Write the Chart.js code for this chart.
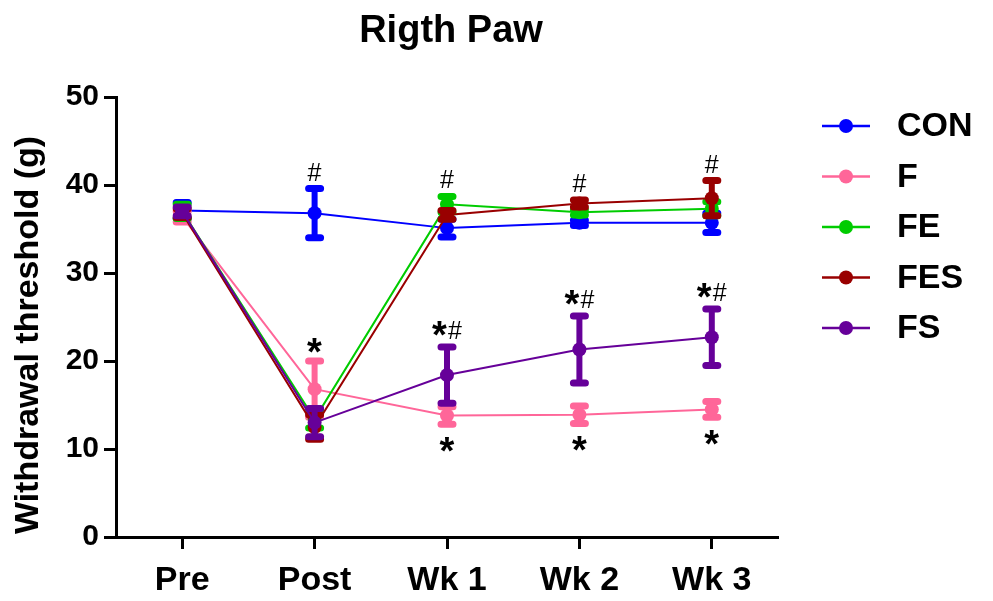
<!DOCTYPE html>
<html>
<head>
<meta charset="utf-8">
<title>Rigth Paw</title>
<script src="https://cdn.jsdelivr.net/npm/chart.js@4/dist/chart.umd.min.js"></script>
<style>
  html, body { margin: 0; padding: 0; background: #ffffff; }
  #wrap { width: 993px; height: 601px; }
</style>
</head>
<body>
<div id="wrap"><canvas id="c" width="993" height="601"></canvas></div>
<script>
// Time points
const timePoints = ['Pre', 'Post', 'Wk 1', 'Wk 2', 'Wk 3'];

// Group names
const groups = ['CON', 'F', 'FE', 'FES', 'FS'];

// Mean withdrawal threshold (g) per group
const conMean = [37.1, 36.8, 35.1, 35.7, 35.7];
const fMean   = [36.4, 16.8, 13.8, 13.9, 14.5];
const feMean  = [37.0, 13.4, 37.8, 36.9, 37.3];
const fesMean = [36.8, 12.5, 36.6, 37.9, 38.5];
const fsMean  = [37.0, 13.0, 18.4, 21.3, 22.7];

// Error (±) per group
const conErr = [0.9, 2.8, 1.0, 0.3, 1.1];
const fErr   = [0.6, 3.2, 1.0, 1.0, 0.9];
const feErr  = [0.8, 1.0, 0.9, 0.3, 0.8];
const fesErr = [0.5, 1.4, 0.5, 0.4, 2.0];
const fsErr  = [0.5, 1.6, 3.2, 3.8, 3.2];

// Y axis range
const yMin = 0, yMax = 50, yStep = 10;

// Significance marks: time point index, group index, side, symbols
const markAt     = [1, 1, 2, 2, 2, 3, 3, 3, 4, 4, 4];
const markGroup  = [0, 1, 2, 4, 1, 3, 4, 1, 3, 4, 1];
const markSide   = ['above', 'above', 'above', 'above', 'below', 'above', 'above', 'below', 'above', 'above', 'below'];
const markText   = ['#', '*', '#', '*#', '*', '#', '*#', '*', '#', '*#', '*'];

const colors = ['#0000ff', '#ff6699', '#00cc00', '#990000', '#660099'];
const FONT = '"Liberation Sans", Arial, Helvetica, sans-serif';

const means = [conMean, fMean, feMean, fesMean, fsMean];
const errs  = [conErr, fErr, feErr, fesErr, fsErr];

// Vertical error bars with rounded caps, drawn just beneath each series
const errorBarPlugin = {
  id: 'errorBars',
  beforeDatasetDraw(chart, args) {
    const ds = chart.data.datasets[args.index];
    const xs = chart.scales.x, ys = chart.scales.y;
    const ctx = chart.ctx;
    ctx.save();
    ctx.strokeStyle = ds.borderColor;
    ds.data.forEach((v, i) => {
      const e = ds.errors[i];
      const px = xs.getPixelForValue(i);
      const top = ys.getPixelForValue(v + e);
      const bot = ys.getPixelForValue(v - e);
      ctx.lineCap = 'butt';
      ctx.lineWidth = 6;
      ctx.beginPath();
      ctx.moveTo(px, top);
      ctx.lineTo(px, bot);
      ctx.stroke();
      ctx.lineCap = 'round';
      ctx.lineWidth = 7;
      ctx.beginPath();
      ctx.moveTo(px - 6, top); ctx.lineTo(px + 6, top);
      ctx.moveTo(px - 6, bot); ctx.lineTo(px + 6, bot);
      ctx.stroke();
    });
    ctx.restore();
  }
};

// Symbol fonts for the significance marks
function symbolFont(ch) {
  return ch === '*' ? 'bold 38px ' + FONT : '25px ' + FONT;
}

// Significance marks, legend and titles
const decorPlugin = {
  id: 'decor',
  afterDraw(chart) {
    const ctx = chart.ctx;
    const xs = chart.scales.x, ys = chart.scales.y;
    ctx.save();
    ctx.fillStyle = '#000';

    // significance marks
    markAt.forEach((at, k) => {
      const g = markGroup[k];
      const v = means[g][at], e = errs[g][at];
      const px = xs.getPixelForValue(at);
      const chars = markText[k].split('');
      const ms = chars.map(ch => { ctx.font = symbolFont(ch); return ctx.measureText(ch); });
      const heights = ms.map(m => m.actualBoundingBoxAscent + m.actualBoundingBoxDescent);
      const maxH = Math.max(...heights);
      let inkTop;
      if (markSide[k] === 'above') {
        inkTop = ys.getPixelForValue(v + e) - 8 - maxH;
      } else {
        inkTop = ys.getPixelForValue(v - e) + 13;
      }
      const widths = ms.map(m => m.actualBoundingBoxLeft + m.actualBoundingBoxRight);
      const gap = 1;
      const total = widths.reduce((a, b) => a + b, 0) + gap * (chars.length - 1);
      let x = px - total / 2;
      ctx.textAlign = 'left';
      ctx.textBaseline = 'alphabetic';
      chars.forEach((ch, j) => {
        ctx.font = symbolFont(ch);
        ctx.fillText(ch, x + ms[j].actualBoundingBoxLeft, inkTop + ms[j].actualBoundingBoxAscent);
        x += widths[j] + gap;
      });
    });

    // chart title
    ctx.font = 'bold 38px ' + FONT;
    ctx.textAlign = 'center';
    ctx.textBaseline = 'alphabetic';
    ctx.fillText('Rigth Paw', 451, 42);

    // y axis title
    ctx.save();
    ctx.translate(38, 335);
    ctx.rotate(-Math.PI / 2);
    ctx.font = 'bold 34px ' + FONT;
    ctx.textAlign = 'center';
    ctx.fillText('Withdrawal threshold (g)', 0, 0);
    ctx.restore();

    // legend
    chart.data.datasets.forEach((ds, i) => {
      const y = 126 + i * 50.5;
      ctx.strokeStyle = ds.borderColor;
      ctx.lineWidth = 2.5;
      ctx.beginPath();
      ctx.moveTo(822, y); ctx.lineTo(870, y);
      ctx.stroke();
      ctx.fillStyle = ds.borderColor;
      ctx.beginPath();
      ctx.arc(846, y, 7, 0, Math.PI * 2);
      ctx.fill();
      ctx.fillStyle = '#000';
      ctx.font = 'bold 34px ' + FONT;
      ctx.textAlign = 'left';
      ctx.textBaseline = 'middle';
      ctx.fillText(ds.label, 897, y + 1);
    });
    ctx.restore();
  }
};

const datasets = groups.map((name, i) => ({
  label: name,
  data: means[i],
  errors: errs[i],
  borderColor: colors[i],
  backgroundColor: colors[i],
  pointBackgroundColor: colors[i],
  pointBorderWidth: 0,
  pointRadius: 7,
  borderWidth: 2,
  tension: 0,
  fill: false,
  order: groups.length - i
}));

new Chart(document.getElementById('c'), {
  type: 'line',
  data: { labels: timePoints, datasets },
  options: {
    responsive: false,
    animation: false,
    devicePixelRatio: 1,
    layout: { padding: { top: 97, right: 215, left: 0, bottom: 0 } },
    plugins: {
      legend: { display: false },
      title: { display: false },
      tooltip: { enabled: false }
    },
    scales: {
      x: {
        type: 'category',
        offset: true,
        grid: { drawOnChartArea: false, drawTicks: true, tickLength: 12, tickWidth: 3, tickColor: '#000', offset: false },
        border: { display: true, width: 3, color: '#000' },
        ticks: { color: '#000', font: { family: FONT, size: 34, weight: 'bold' }, padding: 11, maxRotation: 0, autoSkip: false },
        afterFit(s) { s.height = 64; }
      },
      y: {
        min: yMin,
        max: yMax,
        grid: { drawOnChartArea: false, drawTicks: true, tickLength: 12, tickWidth: 3, tickColor: '#000' },
        border: { display: true, width: 3, color: '#000' },
        ticks: { stepSize: yStep, color: '#000', font: { family: FONT, size: 30, weight: 'bold' }, padding: 5 },
        afterFit(s) { s.width = 116; }
      }
    }
  },
  plugins: [errorBarPlugin, decorPlugin]
});
</script>
</body>
</html>
